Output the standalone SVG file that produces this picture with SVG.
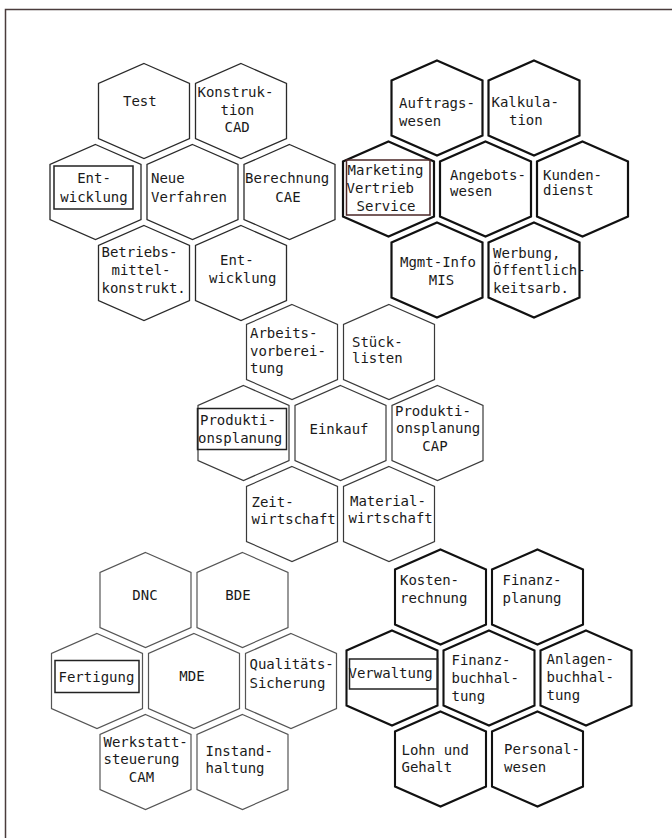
<svg xmlns="http://www.w3.org/2000/svg" xmlns:xlink="http://www.w3.org/1999/xlink" width="672" height="838" viewBox="0 0 672 838">
<style>
text{font-family:"DejaVu Sans Mono","Liberation Mono",monospace;font-size:14px;fill:#1a1a1a}
.m{text-anchor:middle}
use{fill:none}
.tl use{stroke:#2a2a2a;stroke-width:1.3}
.tr use{stroke:#111;stroke-width:2.2}
.md use{stroke:#3a3a3a;stroke-width:1.2}
.bl use{stroke:#555;stroke-width:1.2}
.br use{stroke:#111;stroke-width:2.1}
.box{fill:none;stroke:#222;stroke-width:1.5}
.boxr{fill:none;stroke:#4a2626;stroke-width:1.5}
.frame{fill:none;stroke:#4a3c3c;stroke-width:1.5}
</style>
<defs>
<polygon id="hex" points="0,-47.5 45.5,-27.5 45.5,27.5 0,47.5 -45.5,27.5 -45.5,-27.5"/>
</defs>
<rect width="672" height="838" fill="#fff"/>
<polyline class="frame" points="5.5,838 5.5,9.5 672,9.5"/>
<g id="connectors"/>

<g class="tl">
<g id="tl-test"><use xlink:href="#hex" x="144" y="111"/><text x="123" y="106">Test</text></g>
<g id="tl-konstruktion"><use xlink:href="#hex" x="241" y="111"/><text x="197.5" y="97">Konstruk-</text><text x="220.5" y="114.5">tion</text><text x="224.5" y="132">CAD</text></g>
<g id="tl-entwicklung-box"><use xlink:href="#hex" x="95.5" y="192"/><rect class="box" x="54" y="166" width="79" height="43"/><text class="m" x="94" y="183">Ent-</text><text class="m" x="94" y="201.5">wicklung</text></g>
<g id="tl-neue-verfahren"><use xlink:href="#hex" x="192.5" y="192"/><text x="151" y="183">Neue</text><text x="151" y="201.5">Verfahren</text></g>
<g id="tl-berechnung"><use xlink:href="#hex" x="289.5" y="192"/><text x="245" y="183">Berechnung</text><text class="m" x="288" y="201.5">CAE</text></g>
<g id="tl-betriebsmittel"><use xlink:href="#hex" x="144" y="273"/><text x="101.5" y="257">Betriebs-</text><text x="111.5" y="275">mittel-</text><text x="101.5" y="293">konstrukt.</text></g>
<g id="tl-entwicklung"><use xlink:href="#hex" x="241" y="273"/><text x="220" y="265">Ent-</text><text x="209" y="283">wicklung</text></g>
</g>

<g class="tr">
<g id="tr-auftragswesen"><use xlink:href="#hex" x="437" y="108"/><text x="399" y="107.5">Auftrags-</text><text x="399" y="126">wesen</text></g>
<g id="tr-kalkulation"><use xlink:href="#hex" x="534" y="108"/><text x="491.5" y="106.5">Kalkula-</text><text x="509" y="125">tion</text></g>
<g id="tr-marketing-box"><use xlink:href="#hex" x="388.5" y="189"/><rect class="boxr" x="346.5" y="160" width="83.5" height="55"/><text x="347.5" y="175">Marketing</text><text x="346.5" y="192.5">Vertrieb</text><text x="356.5" y="210.5">Service</text></g>
<g id="tr-angebotswesen"><use xlink:href="#hex" x="485.5" y="189"/><text x="450" y="180">Angebots-</text><text x="450" y="196">wesen</text></g>
<g id="tr-kundendienst"><use xlink:href="#hex" x="582.5" y="189"/><text x="543" y="180">Kunden-</text><text x="543" y="195">dienst</text></g>
<g id="tr-mis"><use xlink:href="#hex" x="437" y="270"/><text x="400" y="266.5">Mgmt-Info</text><text class="m" x="441.5" y="285">MIS</text></g>
<g id="tr-werbung"><use xlink:href="#hex" x="534" y="270"/><text x="493" y="258">Werbung,</text><text x="493" y="275">Öffentlich-</text><text x="493" y="292.5">keitsarb.</text></g>
</g>

<g class="md">
<g id="md-arbeitsvorbereitung"><use xlink:href="#hex" x="292" y="352"/><text x="250" y="338">Arbeits-</text><text x="250" y="356">vorberei-</text><text x="250" y="373">tung</text></g>
<g id="md-stuecklisten"><use xlink:href="#hex" x="389" y="352"/><text x="352" y="346.5">Stück-</text><text x="352" y="363">listen</text></g>
<g id="md-produktionsplanung-box"><use xlink:href="#hex" x="243.5" y="433"/><rect class="box" x="197.5" y="408.5" width="89" height="41"/><text x="200" y="425">Produkti-</text><text x="198" y="442.5">onsplanung</text></g>
<g id="md-einkauf"><use xlink:href="#hex" x="340.5" y="433"/><text class="m" x="339" y="434">Einkauf</text></g>
<g id="md-produktionsplanung-cap"><use xlink:href="#hex" x="437.5" y="433"/><text x="395" y="415.5">Produkti-</text><text x="396" y="433">onsplanung</text><text class="m" x="435" y="451">CAP</text></g>
<g id="md-zeitwirtschaft"><use xlink:href="#hex" x="292" y="514"/><text x="251.5" y="506.5">Zeit-</text><text x="251.5" y="524">wirtschaft</text></g>
<g id="md-materialwirtschaft"><use xlink:href="#hex" x="389" y="514"/><text x="350" y="506">Material-</text><text x="348.5" y="523">wirtschaft</text></g>
</g>

<g class="bl">
<g id="bl-dnc"><use xlink:href="#hex" x="145.5" y="600"/><text class="m" x="145" y="600">DNC</text></g>
<g id="bl-bde"><use xlink:href="#hex" x="242.5" y="600"/><text class="m" x="238" y="600">BDE</text></g>
<g id="bl-fertigung-box"><use xlink:href="#hex" x="97" y="681"/><rect class="box" x="55" y="660.5" width="84" height="32"/><text x="58.5" y="681.5">Fertigung</text></g>
<g id="bl-mde"><use xlink:href="#hex" x="194" y="681"/><text class="m" x="192" y="681">MDE</text></g>
<g id="bl-qualitaet"><use xlink:href="#hex" x="291" y="681"/><text x="249.5" y="669">Qualitäts-</text><text x="249.5" y="688">Sicherung</text></g>
<g id="bl-werkstatt"><use xlink:href="#hex" x="145.5" y="762"/><text x="103.5" y="746.5">Werkstatt-</text><text x="103.5" y="764">steuerung</text><text class="m" x="141.5" y="782">CAM</text></g>
<g id="bl-instandhaltung"><use xlink:href="#hex" x="242.5" y="762"/><text x="205.5" y="755.5">Instand-</text><text x="205.5" y="773">haltung</text></g>
</g>

<g class="br">
<g id="br-kostenrechnung"><use xlink:href="#hex" x="440.5" y="597"/><text x="400" y="585">Kosten-</text><text x="400" y="602.5">rechnung</text></g>
<g id="br-finanzplanung"><use xlink:href="#hex" x="537.5" y="597"/><text x="502.5" y="585">Finanz-</text><text x="502.5" y="602.5">planung</text></g>
<g id="br-verwaltung-box"><use xlink:href="#hex" x="392" y="678"/><rect class="box" x="349.5" y="659" width="88" height="30"/><text x="348.5" y="678">Verwaltung</text></g>
<g id="br-finanzbuchhaltung"><use xlink:href="#hex" x="489" y="678"/><text x="451.5" y="665">Finanz-</text><text x="451.5" y="683">buchhal-</text><text x="451.5" y="701">tung</text></g>
<g id="br-anlagenbuchhaltung"><use xlink:href="#hex" x="586" y="678"/><text x="546.5" y="664">Anlagen-</text><text x="546.5" y="682">buchhal-</text><text x="546.5" y="700">tung</text></g>
<g id="br-lohn"><use xlink:href="#hex" x="440.5" y="759"/><text x="401.5" y="755">Lohn und</text><text x="401.5" y="771.5">Gehalt</text></g>
<g id="br-personalwesen"><use xlink:href="#hex" x="537.5" y="759"/><text x="504" y="754">Personal-</text><text x="504" y="771.5">wesen</text></g>
</g>
</svg>
